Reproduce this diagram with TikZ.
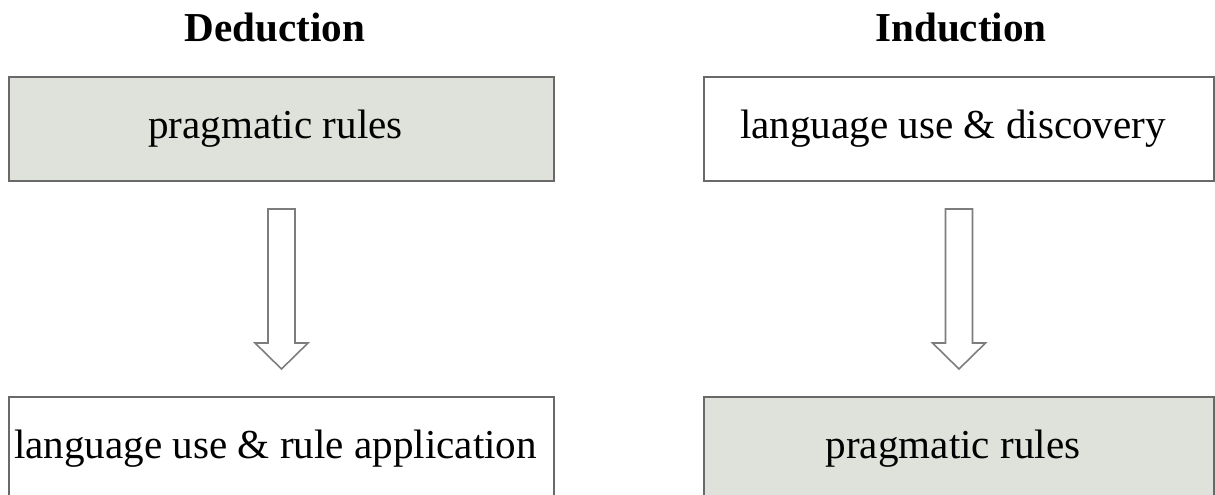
\documentclass[tikz,border=0pt]{standalone}
\usepackage{fontspec}
\setmainfont{Liberation Serif}
\usepackage{xcolor}
\usetikzlibrary{calc,positioning}

\definecolor{rulefill}{RGB}{222,226,219}
\definecolor{boxline}{RGB}{105,105,105}
\definecolor{arrowline}{RGB}{125,125,125}

\tikzset{
	phasebox/.style={draw=boxline,line width=1.15pt,minimum height=2.08cm,inner sep=0pt,
		font=\fontsize{23.4}{28}\selectfont,execute at end node={\hspace*{0.24cm}}},
	rulebox/.style={phasebox,fill=rulefill},
	usebox/.style={phasebox,fill=white},
	heading/.style={font=\fontsize{23.4}{28}\selectfont\bfseries,anchor=base},
	blockarrow/.style={draw=arrowline,line width=0.9pt,fill=white,line join=miter}
}

\begin{document}
\begin{tikzpicture}
		\useasboundingbox (0,0) rectangle (24.3,-9.9);
		% headings
		\node[heading] (ded) at (5.5,-0.84) {Deduction};
		\node[heading] (ind) at (19.22,-0.84) {Induction};
		% boxes
		\node[rulebox,minimum width=10.9cm] (pragL) at (5.63,-2.58) {pragmatic rules};
		\node[usebox,minimum width=10.9cm] (applyL) at (5.63,-8.98) {language use \& rule application};
		\node[usebox,minimum width=10.2cm] (discR) at (19.18,-2.58) {language use \& discovery};
		\node[rulebox,minimum width=10.2cm] (pragR) at (19.18,-8.98) {pragmatic rules};
		% hollow arrows
		\foreach \a/\b in {pragL/applyL,discR/pragR}
		\draw[blockarrow] ($(\a.south)+(-0.27,-0.54)$) -- ($(\a.south)+(0.27,-0.54)$)
			-- ($(\b.north)+(0.27,1.06)$) -- ($(\b.north)+(0.53,1.06)$)
			-- ($(\b.north)+(0,0.54)$) -- ($(\b.north)+(-0.53,1.06)$)
			-- ($(\b.north)+(-0.27,1.06)$) -- cycle;
		\end{tikzpicture}
\end{document}
